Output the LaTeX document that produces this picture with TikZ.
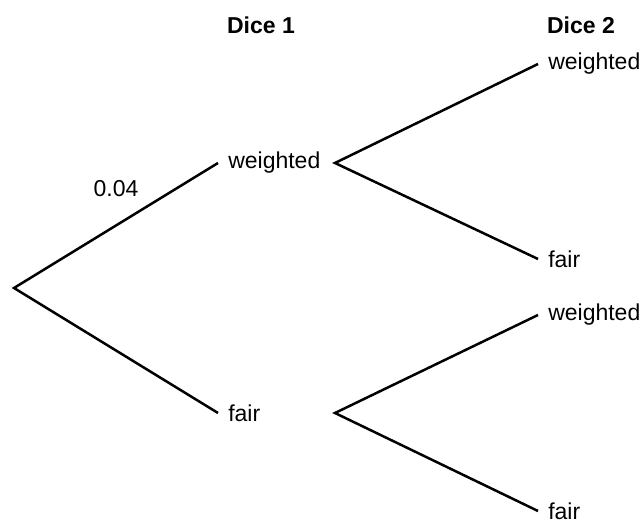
\documentclass[tikz,border=0pt]{standalone}
\usepackage{fontspec}
\setmainfont{Liberation Sans}

\begin{document}
\begin{tikzpicture}[x=0.5pt, y=-0.5pt, line width=1.25pt,
    txt/.style={inner sep=0pt, font=\fontsize{11.5}{13}\selectfont},
    outcome/.style={txt, anchor=west, inner xsep=4.5pt},
    heading/.style={txt, font=\fontsize{11.5}{13}\selectfont\bfseries}]
    \useasboundingbox (0,0) rectangle (643,522);
    \node[heading] (dice1) at (261,25) {Dice 1};
    \node[heading] (dice2) at (581,25) {Dice 2};
    \coordinate (root) at (14,288);
    \node[outcome] (w1) at (218,163) {weighted};
    \node[outcome] (f1) at (218,413) {fair};
    \draw (w1.west) -- (root) -- (f1.west);
    \node[txt] (prob) at (116,189) {0.04};
    \coordinate (w1-fork) at (335,163);
    \coordinate (f1-fork) at (335,413);
    \foreach \src/\up/\lo in {w1/64/259, f1/315/511} {
      \node[outcome] (\src-w) at (538,\up) {weighted};
      \node[outcome] (\src-f) at (538,\lo) {fair};
      \draw (\src-w.west) -- (\src-fork) -- (\src-f.west);
    }
\end{tikzpicture}
\end{document}
